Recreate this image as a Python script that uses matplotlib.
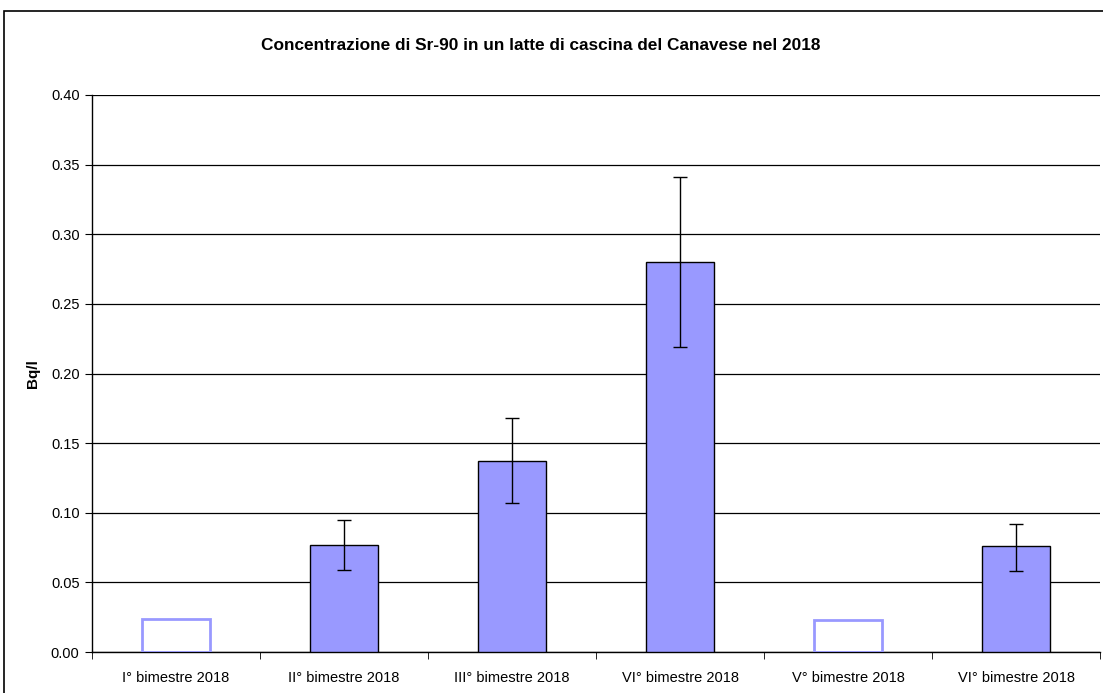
import matplotlib
matplotlib.use("Agg")
import matplotlib.pyplot as plt
from matplotlib.patches import Rectangle

# Data
categories = ["I° bimestre 2018", "II° bimestre 2018", "III° bimestre 2018",
              "VI° bimestre 2018", "V° bimestre 2018", "VI° bimestre 2018"]
values = [0.024, 0.077, 0.137, 0.280, 0.023, 0.076]
err_low = [None, 0.059, 0.107, 0.219, None, 0.058]
err_high = [None, 0.095, 0.168, 0.341, None, 0.092]
# bars below detection limit are drawn as empty outlines
below_limit = [True, False, False, False, True, False]

plt.rcParams['font.family'] = ['Liberation Sans', 'DejaVu Sans']

fig = plt.figure(figsize=(11.03, 6.93), dpi=100)
ax = fig.add_axes([92 / 1103, 41 / 693, 1008 / 1103, 557 / 693])

# outer chart frame (runs off the right and bottom edges)
fig.patches.append(Rectangle((4 / 1103, -0.1), 1.2, (693 - 11) / 693 + 0.1,
                             transform=fig.transFigure, fill=False,
                             edgecolor="black", linewidth=1.2))

color = "#9999FF"
x = list(range(len(categories)))
for i in x:
    if below_limit[i]:
        ax.bar(i, values[i], width=0.4, facecolor="none", edgecolor=color,
               linewidth=2, zorder=3)
    else:
        ax.bar(i, values[i], width=0.4, color=color, edgecolor="black",
               linewidth=1, zorder=3)
        ax.errorbar(i, values[i],
                    yerr=[[values[i] - err_low[i]], [err_high[i] - values[i]]],
                    fmt="none", ecolor="black", elinewidth=1, capsize=5,
                    capthick=1, zorder=4)

ax.set_xlim(-0.5, len(categories) - 0.5)
ax.set_ylim(0, 0.40)
ax.set_yticks([i * 0.05 for i in range(9)])
ax.set_yticklabels([f"{i * 0.05:.2f}" for i in range(9)], fontsize=10.5)
ax.yaxis.grid(True, color="black", linewidth=0.9)
ax.set_axisbelow(True)

ax.set_xticks(x)
ax.set_xticklabels(categories, fontsize=10.5)
ax.tick_params(axis="x", length=0, pad=14)
ax.set_xticks([i - 0.5 for i in range(len(categories) + 1)], minor=True)
ax.tick_params(axis="x", which="minor", length=5, direction="out")
ax.tick_params(axis="y", length=5, direction="out", pad=4)

for side in ["top", "right"]:
    ax.spines[side].set_visible(False)
ax.spines["left"].set_linewidth(1)
ax.spines["bottom"].set_linewidth(1)

ax.set_ylabel("Bq/l", fontsize=11, fontweight="bold")
ax.yaxis.set_label_coords((33 - 92) / 1008, 0.5)
ax.yaxis.label.set_va("center")
fig.text(541 / 1103, 1 - 45 / 693, "Concentrazione di Sr-90 in un latte di cascina del Canavese nel 2018",
         ha="center", va="center", fontsize=12.4, fontweight="bold")

fig.savefig("out.png", dpi=100)
